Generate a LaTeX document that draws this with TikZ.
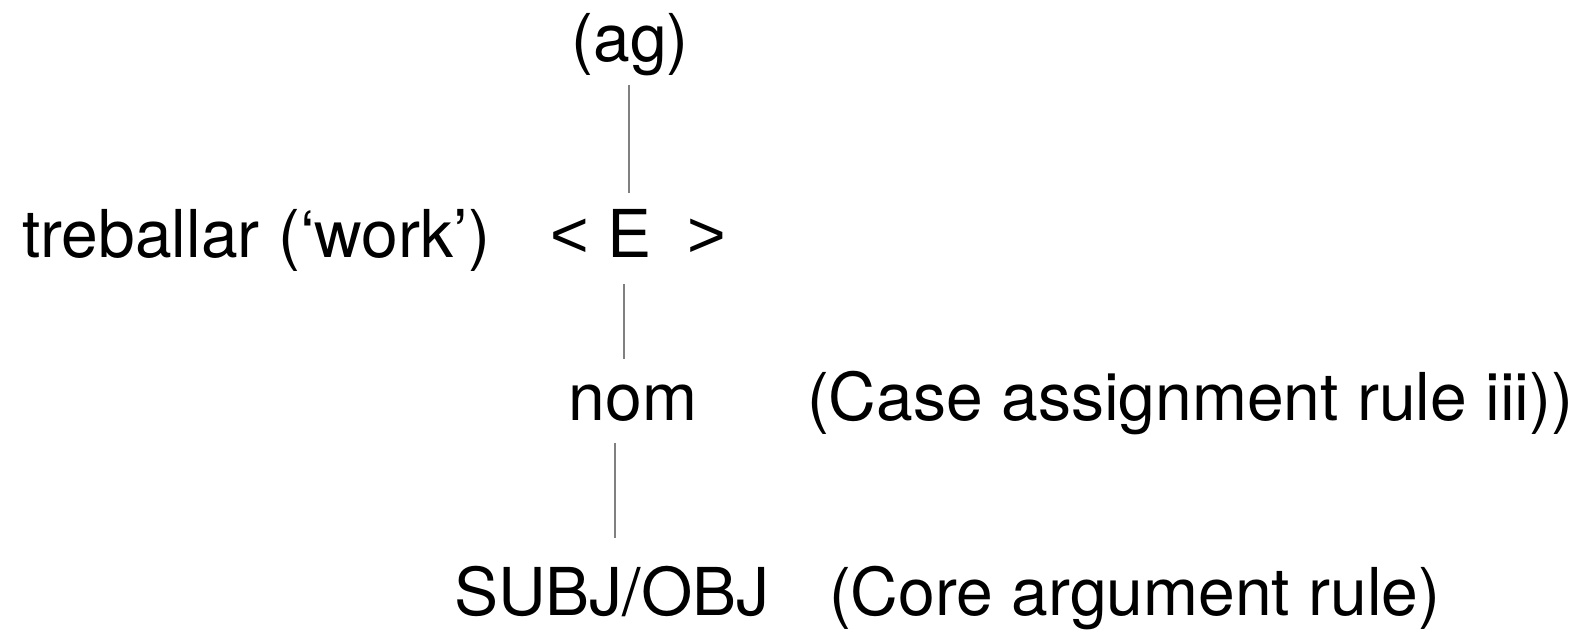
\documentclass[tikz,border=0pt]{standalone}
\usepackage{fontspec}
\setmainfont{TeX Gyre Heros}
\newfontfamily\symfont{Liberation Sans}
\begin{document}
\begin{tikzpicture}[x=0.5pt,y=-0.5pt,
  lbl/.style={inner sep=0pt,outer sep=0pt,font=\fontsize{33}{40}\selectfont},
  conn/.style={draw=black!50,line width=0.9pt}]
\useasboundingbox (0,0) rectangle (1580,631);
\node[lbl,anchor=base] (ag) at (630,62) {(ag)};
\node[lbl,anchor=base west] (treb) at (22,257) {treballar (‘work’)};
\node[lbl,anchor=base] (lt) at (570,257) {\symfont <};
\node[lbl,anchor=base] (E) at (630,257) {E};
\node[lbl,anchor=base] (gt) at (707,257) {\symfont >};
\node[lbl,anchor=base] (nom) at (633,420) {nom};
\node[lbl,anchor=base west] (case) at (807,420) {(Case assignment rule iii))};
\node[lbl,anchor=base] (subj) at (612,615) {SUBJ/OBJ};
\node[lbl,anchor=base west] (core) at (829,615) {(Core argument rule)};
\coordinate (l1a) at (629,85);
\coordinate (l1b) at (629,193);
\coordinate (l2a) at (624,284);
\coordinate (l2b) at (624,359);
\coordinate (l3a) at (615,443);
\coordinate (l3b) at (615,538);
\draw[conn] (l1a) -- (l1b);
\draw[conn] (l2a) -- (l2b);
\draw[conn] (l3a) -- (l3b);
\end{tikzpicture}
\end{document}
